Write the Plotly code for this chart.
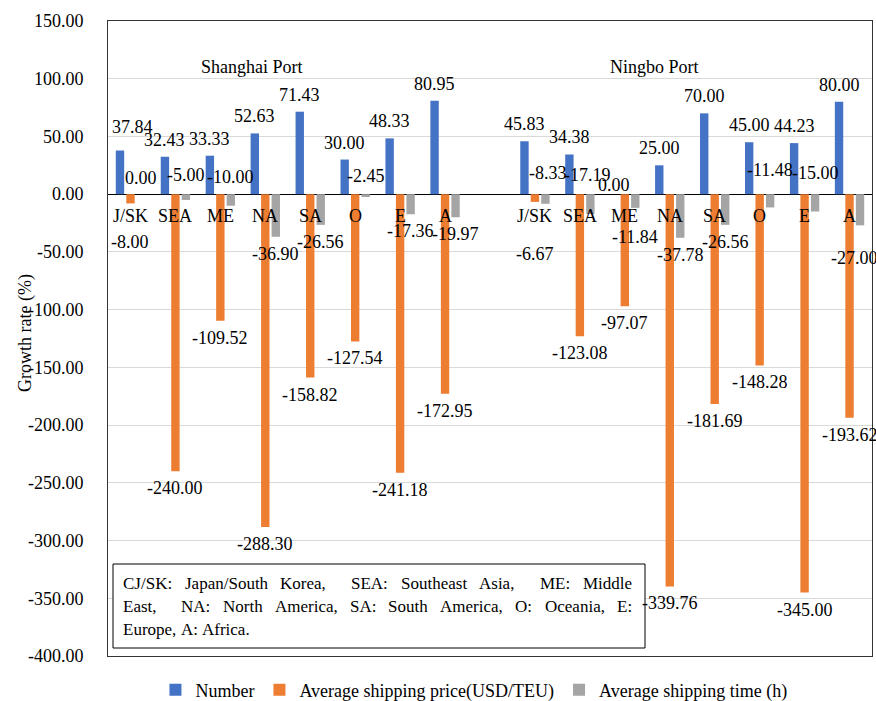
import plotly.graph_objects as go

# ---------------- data ----------------
categories = ["J/SK", "SEA", "ME", "NA", "SA", "O", "E", "A"]
ports = ["Shanghai Port", "Ningbo Port"]
series_names = ["Number", "Average shipping price(USD/TEU)", "Average shipping time (h)"]

sh_number = [37.84, 32.43, 33.33, 52.63, 71.43, 30.00, 48.33, 80.95]
sh_price = [-8.00, -240.00, -109.52, -288.30, -158.82, -127.54, -241.18, -172.95]
sh_time = [0.00, -5.00, -10.00, -36.90, -26.56, -2.45, -17.36, -19.97]

nb_number = [45.83, 34.38, 0.00, 25.00, 70.00, 45.00, 44.23, 80.00]
nb_price = [-6.67, -123.08, -97.07, -339.76, -181.69, -148.28, -345.00, -193.62]
nb_time = [-8.33, -17.19, -11.84, -37.78, -26.56, -11.48, -15.00, -27.00]

y_ticks = [150, 100, 50, 0, -50, -100, -150, -200, -250, -300, -350, -400]

note_lines = [
    "CJ/SK: Japan/South Korea,  SEA: Southeast Asia,  ME: Middle",
    "East,  NA: North America, SA: South America, O: Oceania, E:",
    "Europe, A: Africa.",
]

# ---------------- styling ----------------
FONT = "Liberation Serif"
FS = 18
NOTE_FS = 17
colors = ["#4472C4", "#ED7D31", "#A5A5A5"]

W, H = 876, 701
ML, MR, MT, MB = 108, 4, 21, 45
PW, PH = W - ML - MR, H - MT - MB


def px_to_paper_x(px):
    return (px - ML) / PW


def px_to_paper_y(py):
    return (H - MB - py) / PH


# Times-compatible advance widths (per 1000 em) for the note text
TW = {" ": 250, ",": 250, ".": 250, ":": 278, "/": 278,
      "A": 722, "C": 667, "E": 611, "J": 389, "K": 722, "M": 889, "N": 722, "O": 722, "S": 556,
      "a": 444, "b": 500, "c": 444, "d": 500, "e": 444, "f": 333, "g": 500, "h": 500, "i": 278,
      "j": 278, "k": 500, "l": 278, "m": 778, "n": 500, "o": 500, "p": 500, "r": 333, "s": 389,
      "t": 278, "u": 500, "w": 722, "y": 500}


def text_w(s, size):
    return sum(TW.get(c, 500) for c in s) * size / 1000.0


n = len(categories)
x_sh = list(range(n))
x_nb = [i + n + 1 for i in range(n)]
x_all = x_sh + x_nb

series_vals = [sh_number + nb_number, sh_price + nb_price, sh_time + nb_time]

fig = go.Figure()
for name, vals, col in zip(series_names, series_vals, colors):
    fig.add_trace(go.Bar(x=x_all, y=vals, name=name, marker=dict(color=col, line=dict(width=0))))

# label placement (pixel shifts); default: 17px beyond the bar end
slot = 0.7 / 3
offsets = [-slot, 0.0, slot]
# overrides: key (series index, bar index) -> dict(base, yshift, xshift)
overrides = {
    (0, 0): dict(yshift=23, xshift=13),
    (1, 0): dict(yshift=-39),
    (2, 0): dict(base=0, yshift=16),
    (2, 1): dict(base=0, yshift=19),
    (2, 2): dict(base=0, yshift=17),
    (2, 5): dict(base=0, yshift=18),
    (0, 10): dict(yshift=9),
    (1, 8): dict(yshift=-52),
    (2, 8): dict(base=0, yshift=21, xshift=3),
    (2, 9): dict(base=0, yshift=19, xshift=-3),
    (2, 10): dict(yshift=-29),
    (2, 13): dict(base=0, yshift=24),
    (2, 14): dict(base=0, yshift=21),
    (2, 15): dict(yshift=-33, xshift=-6),
}

annotations = []
for si, vals in enumerate(series_vals):
    for bi, (xv, v) in enumerate(zip(x_all, vals)):
        ov = overrides.get((si, bi), {})
        base = ov.get("base", v)
        ys = ov.get("yshift", 17 if v >= 0 else -17)
        annotations.append(dict(
            x=xv + offsets[si], y=base, xref="x", yref="y",
            text=f"{v:.2f}", showarrow=False, yshift=ys, xshift=ov.get("xshift", 0),
            font=dict(family=FONT, size=FS, color="black"),
            xanchor="center", yanchor="middle",
        ))

# category labels at the zero line
for xv, lab in zip(x_all, categories + categories):
    annotations.append(dict(
        x=xv, y=0, xref="x", yref="y", text=lab, showarrow=False, yshift=-22,
        font=dict(family=FONT, size=FS, color="black"), xanchor="center", yanchor="middle",
    ))

# port titles
for pxx, name in zip([251.5, 654], ports):
    annotations.append(dict(
        x=px_to_paper_x(pxx), y=px_to_paper_y(67), xref="paper", yref="paper", text=name,
        showarrow=False, font=dict(family=FONT, size=FS, color="black"),
        xanchor="center", yanchor="middle",
    ))

# y axis title
annotations.append(dict(
    x=px_to_paper_x(25), y=px_to_paper_y(333), xref="paper", yref="paper", text="Growth rate (%)",
    showarrow=False, textangle=-90, font=dict(family=FONT, size=FS, color="black"),
    xanchor="center", yanchor="middle",
))

# note box text (justified lines: every space stretched equally; last line left-aligned)
note_left, note_right = 122, 631
note_ys = [583, 606, 629]
space_w = text_w(" ", NOTE_FS)
for li, (line, ly) in enumerate(zip(note_lines, note_ys)):
    words = [w for w in line.split(" ") if w]
    n_spaces = line.count(" ")
    gaps = []
    rest = line
    for w in words:
        idx = rest.index(w) + len(w)
        rest = rest[idx:]
        gaps.append(len(rest) - len(rest.lstrip(" ")))
    if li < len(note_lines) - 1:
        total = sum(text_w(w, NOTE_FS) for w in words)
        sp = (note_right - note_left - total) / n_spaces
    else:
        sp = space_w
    cx = note_left
    for w, g in zip(words, gaps):
        annotations.append(dict(
            x=px_to_paper_x(cx), y=px_to_paper_y(ly), xref="paper", yref="paper", text=w,
            showarrow=False, font=dict(family=FONT, size=NOTE_FS, color="black"),
            xanchor="left", yanchor="middle", xshift=-1,
        ))
        cx += text_w(w, NOTE_FS) + g * sp

shapes = [dict(
    type="rect", xref="paper", yref="paper",
    x0=px_to_paper_x(113), x1=px_to_paper_x(645), y0=px_to_paper_y(648), y1=px_to_paper_y(564),
    line=dict(color="black", width=1), fillcolor="white", layer="above",
)]

fig.update_layout(
    width=W, height=H,
    margin=dict(l=ML, r=MR, t=MT, b=MB, autoexpand=False),
    paper_bgcolor="white", plot_bgcolor="white",
    barmode="group", bargap=0.3, bargroupgap=0.2,
    font=dict(family=FONT, size=FS, color="black"),
    showlegend=True,
    legend=dict(orientation="h", x=0.479, xanchor="center", y=px_to_paper_y(690), yanchor="middle",
                font=dict(family=FONT, size=FS, color="black"), bgcolor="rgba(0,0,0,0)"),
    annotations=annotations,
    shapes=shapes,
)
fig.update_xaxes(range=[-0.5, 2 * n + 0.5], showticklabels=False, ticks="", showgrid=False,
                 zeroline=False, showline=True, mirror=True, linecolor="#333333", linewidth=1)
fig.update_yaxes(range=[-400, 150], tickvals=y_ticks, ticktext=[f"{v:.2f}" for v in y_ticks],
                 showgrid=True, gridcolor="#D9D9D9", gridwidth=1,
                 zeroline=True, zerolinecolor="black", zerolinewidth=1,
                 showline=True, mirror=True, linecolor="#333333", linewidth=1,
                 ticks="", ticklabelstandoff=20, tickfont=dict(family=FONT, size=FS, color="black"))

fig.write_html("out.html")
